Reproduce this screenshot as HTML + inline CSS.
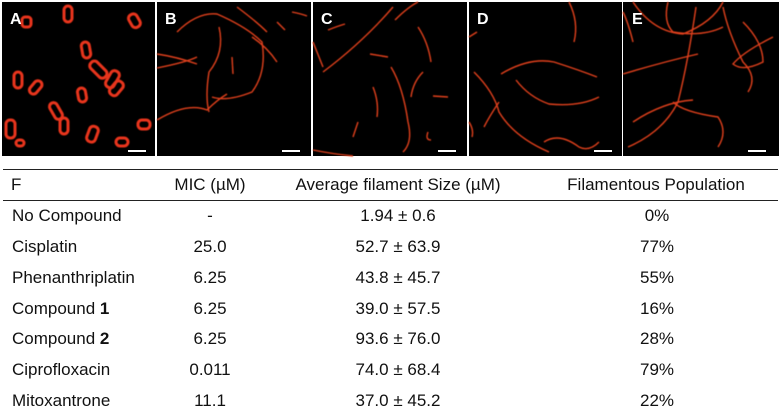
<!DOCTYPE html>
<html><head><meta charset="utf-8"><style>
body{margin:0;width:780px;height:416px;background:#fff;position:relative;overflow:hidden;font-family:"Liberation Sans",sans-serif;color:#111}
svg{position:absolute;left:0;top:0}
.t{position:absolute;white-space:nowrap;font-size:17px;letter-spacing:0;line-height:20px}
.h{font-size:17px;letter-spacing:0}
.c{transform:translateX(-50%)}
.line{position:absolute;left:3px;width:775px;height:1px;background:#222}
</style></head><body>
<svg width="780" height="160">
<defs><filter id="g"><feGaussianBlur stdDeviation="0.6"/></filter></defs>
<g transform="translate(2,2)">
<rect width="153" height="154" fill="#000"/>
<g fill="none" stroke="#e8341c" stroke-width="3" filter="url(#g)">
<rect x="62" y="4" width="8" height="16" rx="4"/><rect x="128" y="12" width="9" height="14" rx="4" transform="rotate(-30 132 19)"/>
<rect x="20" y="15" width="9" height="10" rx="3"/><rect x="80" y="40" width="8" height="16" rx="4" transform="rotate(-10 84 48)"/>
<rect x="92" y="58" width="9" height="20" rx="4" transform="rotate(-45 96 68)"/><rect x="106" y="68" width="9" height="18" rx="4" transform="rotate(30 110 77)"/>
<rect x="110" y="78" width="9" height="16" rx="4" transform="rotate(40 114 86)"/><rect x="12" y="70" width="8" height="16" rx="4"/>
<rect x="30" y="78" width="8" height="15" rx="4" transform="rotate(40 34 85)"/><rect x="76" y="86" width="8" height="14" rx="4" transform="rotate(-10 80 93)"/>
<rect x="50" y="100" width="8" height="18" rx="4" transform="rotate(-30 54 109)"/><rect x="58" y="116" width="8" height="16" rx="4"/>
<rect x="4" y="118" width="9" height="18" rx="4"/><rect x="86" y="124" width="9" height="16" rx="4" transform="rotate(20 90 132)"/>
<rect x="136" y="118" width="12" height="9" rx="4"/><rect x="114" y="136" width="12" height="8" rx="4"/><rect x="14" y="138" width="8" height="6" rx="3"/>
</g></g>
<g transform="translate(157,2)">
<rect width="154" height="154" fill="#000"/>
<g fill="none" stroke="#e0401f" stroke-width="1.4" filter="url(#g)">
<path d="M20 30 Q40 10 60 12 Q90 25 105 40 Q110 70 95 90 Q70 100 55 95"/>
<path d="M62 25 Q68 50 52 70 Q48 95 52 110"/><path d="M0 52 Q20 55 40 62"/><path d="M0 66 Q30 60 40 55"/>
<path d="M0 118 Q30 100 50 108 Q60 98 70 92"/><path d="M95 35 Q110 45 120 60"/><path d="M80 5 Q100 20 110 30"/>
<path d="M135 10 Q145 12 150 14"/><path d="M75 55 L76 72"/><path d="M120 20 L128 28"/></g></g>
<g transform="translate(313,2)">
<rect width="154" height="154" fill="#000"/>
<g fill="none" stroke="#e0401f" stroke-width="1.4" filter="url(#g)">
<path d="M10 70 Q50 40 80 5"/><path d="M82 18 Q95 5 105 0"/><path d="M15 28 Q25 24 32 22"/><path d="M0 40 Q6 55 10 65"/>
<path d="M57 52 L75 55"/><path d="M78 65 Q90 85 95 120 Q100 140 90 150"/><path d="M60 85 Q66 100 64 115"/>
<path d="M105 25 Q115 40 118 60"/><path d="M110 70 Q100 80 98 95"/><path d="M120 94 L135 95"/><path d="M45 120 L40 135"/><path d="M0 148 Q20 152 40 154"/><path d="M115 130 Q112 138 118 138"/></g></g>
<g transform="translate(469,2)">
<rect width="153" height="154" fill="#000"/>
<g fill="none" stroke="#e0401f" stroke-width="1.4" filter="url(#g)">
<path d="M32 72 Q60 55 85 60 Q110 68 128 75"/><path d="M47 78 Q60 95 80 102 Q110 105 130 95"/><path d="M5 70 Q25 90 30 110 Q45 135 80 150"/>
<path d="M30 100 Q20 115 15 125"/><path d="M100 0 Q110 20 105 40"/><path d="M0 120 Q5 128 3 135"/><path d="M75 140 Q90 130 110 145 Q120 150 130 140"/><path d="M0 35 L8 30"/></g></g>
<g transform="translate(623,2)">
<rect width="156" height="154" fill="#000"/>
<g fill="none" stroke="#e0401f" stroke-width="1.4" filter="url(#g)">
<path d="M10 0 Q30 30 60 32 Q90 20 100 0"/><path d="M45 0 Q40 20 50 30 Q80 35 100 25"/><path d="M73 5 Q65 60 55 100 Q40 130 5 145"/>
<path d="M0 72 Q40 60 75 52"/><path d="M120 20 Q140 40 140 60 Q120 70 110 62 Q120 50 150 35"/><path d="M100 5 Q105 30 120 60 Q135 75 125 90"/>
<path d="M50 100 Q60 110 95 115 Q105 130 95 145"/><path d="M10 120 Q40 100 70 98"/><path d="M0 10 Q5 20 10 40"/></g></g>
<g fill="#fff">
<rect x="128" y="150" width="18" height="2"/><rect x="282" y="150" width="18" height="2"/><rect x="438" y="150" width="18" height="2"/><rect x="594" y="150" width="18" height="2"/><rect x="748" y="150" width="18" height="2"/></g>
<g fill="#fff" font-family="Liberation Sans,sans-serif" font-weight="bold" font-size="16">
<text x="10" y="24">A</text><text x="165" y="24">B</text><text x="321" y="24">C</text><text x="477" y="24">D</text><text x="632" y="24">E</text></g>
</svg>
<div class="line" style="top:169px"></div>
<div class="line" style="top:200px"></div>
<div>
<div class="t h" style="left:11px;top:175px">F</div>
<div class="t h c" style="left:210px;top:175px">MIC (µM)</div>
<div class="t h c" style="left:398px;top:175px">Average filament Size (µM)</div>
<div class="t h c" style="left:656px;top:175px">Filamentous Population</div>
</div>
<div>
<div class="t" style="left:12px;top:206px">No Compound</div><div class="t c" style="left:210px;top:206px">-</div><div class="t c" style="left:398px;top:206px">1.94 ± 0.6</div><div class="t c" style="left:657px;top:206px">0%</div>
<div class="t" style="left:12px;top:237px">Cisplatin</div><div class="t c" style="left:210px;top:237px">25.0</div><div class="t c" style="left:398px;top:237px">52.7 ± 63.9</div><div class="t c" style="left:657px;top:237px">77%</div>
<div class="t" style="left:12px;top:268px">Phenanthriplatin</div><div class="t c" style="left:210px;top:268px">6.25</div><div class="t c" style="left:398px;top:268px">43.8 ± 45.7</div><div class="t c" style="left:657px;top:268px">55%</div>
<div class="t" style="left:12px;top:299px">Compound <b>1</b></div><div class="t c" style="left:210px;top:299px">6.25</div><div class="t c" style="left:398px;top:299px">39.0 ± 57.5</div><div class="t c" style="left:657px;top:299px">16%</div>
<div class="t" style="left:12px;top:329px">Compound <b>2</b></div><div class="t c" style="left:210px;top:329px">6.25</div><div class="t c" style="left:398px;top:329px">93.6 ± 76.0</div><div class="t c" style="left:657px;top:329px">28%</div>
<div class="t" style="left:12px;top:360px">Ciprofloxacin</div><div class="t c" style="left:210px;top:360px">0.011</div><div class="t c" style="left:398px;top:360px">74.0 ± 68.4</div><div class="t c" style="left:657px;top:360px">79%</div>
<div class="t" style="left:12px;top:391px">Mitoxantrone</div><div class="t c" style="left:210px;top:391px">11.1</div><div class="t c" style="left:398px;top:391px">37.0 ± 45.2</div><div class="t c" style="left:657px;top:391px">22%</div>
</div>
</body></html>
